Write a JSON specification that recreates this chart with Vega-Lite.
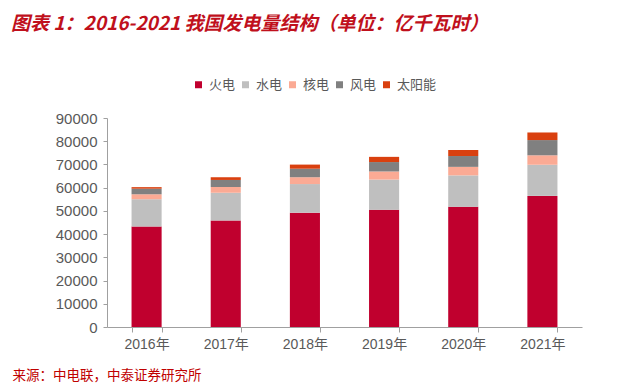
{
  "$schema": "https://vega.github.io/schema/vega-lite/v6.json",
  "width": 475,
  "height": 209,
  "autosize": {"type": "none"},
  "padding": {"left": 107, "top": 118, "right": 58, "bottom": 61},
  "background": "white",
  "title": {
    "text": "图表 1：2016-2021 我国发电量结构（单位：亿千瓦时）",
    "anchor": "start",
    "frame": "group",
    "orient": "top",
    "dx": -96,
    "offset": 44,
    "font": "Noto Sans CJK SC",
    "fontSize": 19,
    "fontWeight": "bold",
    "fontStyle": "italic",
    "color": "#C0101C"
  },
  "data": {
    "values": [
      {"year": "2016年", "type": "火电", "rank": 1, "value": 43273},
      {"year": "2016年", "type": "水电", "rank": 2, "value": 11748},
      {"year": "2016年", "type": "核电", "rank": 3, "value": 2132},
      {"year": "2016年", "type": "风电", "rank": 4, "value": 2409},
      {"year": "2016年", "type": "太阳能", "rank": 5, "value": 665},
      {"year": "2017年", "type": "火电", "rank": 1, "value": 45877},
      {"year": "2017年", "type": "水电", "rank": 2, "value": 11931},
      {"year": "2017年", "type": "核电", "rank": 3, "value": 2481},
      {"year": "2017年", "type": "风电", "rank": 4, "value": 3034},
      {"year": "2017年", "type": "太阳能", "rank": 5, "value": 1166},
      {"year": "2018年", "type": "火电", "rank": 1, "value": 49231},
      {"year": "2018年", "type": "水电", "rank": 2, "value": 12321},
      {"year": "2018年", "type": "核电", "rank": 3, "value": 2950},
      {"year": "2018年", "type": "风电", "rank": 4, "value": 3660},
      {"year": "2018年", "type": "太阳能", "rank": 5, "value": 1775},
      {"year": "2019年", "type": "火电", "rank": 1, "value": 50465},
      {"year": "2019年", "type": "水电", "rank": 2, "value": 13021},
      {"year": "2019年", "type": "核电", "rank": 3, "value": 3487},
      {"year": "2019年", "type": "风电", "rank": 4, "value": 4057},
      {"year": "2019年", "type": "太阳能", "rank": 5, "value": 2238},
      {"year": "2020年", "type": "火电", "rank": 1, "value": 51743},
      {"year": "2020年", "type": "水电", "rank": 2, "value": 13552},
      {"year": "2020年", "type": "核电", "rank": 3, "value": 3662},
      {"year": "2020年", "type": "风电", "rank": 4, "value": 4665},
      {"year": "2020年", "type": "太阳能", "rank": 5, "value": 2611},
      {"year": "2021年", "type": "火电", "rank": 1, "value": 56463},
      {"year": "2021年", "type": "水电", "rank": 2, "value": 13401},
      {"year": "2021年", "type": "核电", "rank": 3, "value": 4075},
      {"year": "2021年", "type": "风电", "rank": 4, "value": 6556},
      {"year": "2021年", "type": "太阳能", "rank": 5, "value": 3270}
    ]
  },
  "mark": {"type": "bar"},
  "encoding": {
    "x": {
      "field": "year",
      "type": "nominal",
      "scale": {"paddingInner": 0.62, "paddingOuter": 0.31},
      "axis": {
        "title": "来源：中电联，中泰证券研究所",
        "titleX": -95,
        "titleY": 48,
        "titleAlign": "left",
        "titleBaseline": "middle",
        "titleFont": "Noto Sans CJK SC",
        "titleFontSize": 13.5,
        "titleFontWeight": "normal",
        "titleColor": "#C00000",
        "labelAngle": 0,
        "labelFont": "Liberation Sans, Noto Sans CJK SC",
        "labelFontSize": 14,
        "labelColor": "#595959",
        "labelPadding": 5,
        "tickBand": "extent",
        "tickSize": 5,
        "tickColor": "#A0A0A0",
        "domainColor": "#A0A0A0",
        "grid": false
      }
    },
    "y": {
      "field": "value",
      "type": "quantitative",
      "stack": "zero",
      "scale": {"domain": [0, 90000], "nice": false},
      "axis": {
        "title": null,
        "values": [0, 10000, 20000, 30000, 40000, 50000, 60000, 70000, 80000, 90000],
        "format": "d",
        "labelFont": "Liberation Sans",
        "labelFontSize": 15,
        "labelColor": "#595959",
        "labelPadding": 6,
        "tickSize": 4,
        "tickColor": "#A0A0A0",
        "domainColor": "#A0A0A0",
        "grid": false
      }
    },
    "color": {
      "field": "type",
      "type": "nominal",
      "scale": {
        "domain": ["火电", "水电", "核电", "风电", "太阳能"],
        "range": ["#C0002E", "#BFBFBF", "#FBAA94", "#808080", "#D9400F"]
      },
      "legend": {
        "title": null,
        "orient": "none",
        "legendX": 85,
        "legendY": -40,
        "direction": "horizontal",
        "symbolType": "square",
        "symbolSize": 49,
        "symbolStrokeWidth": 0,
        "labelFont": "Noto Sans CJK SC",
        "labelFontSize": 13,
        "labelColor": "#595959",
        "labelOffset": 4,
        "columnPadding": 3
      }
    },
    "order": {"field": "rank", "type": "quantitative"}
  },
  "config": {"view": {"stroke": null}}
}
